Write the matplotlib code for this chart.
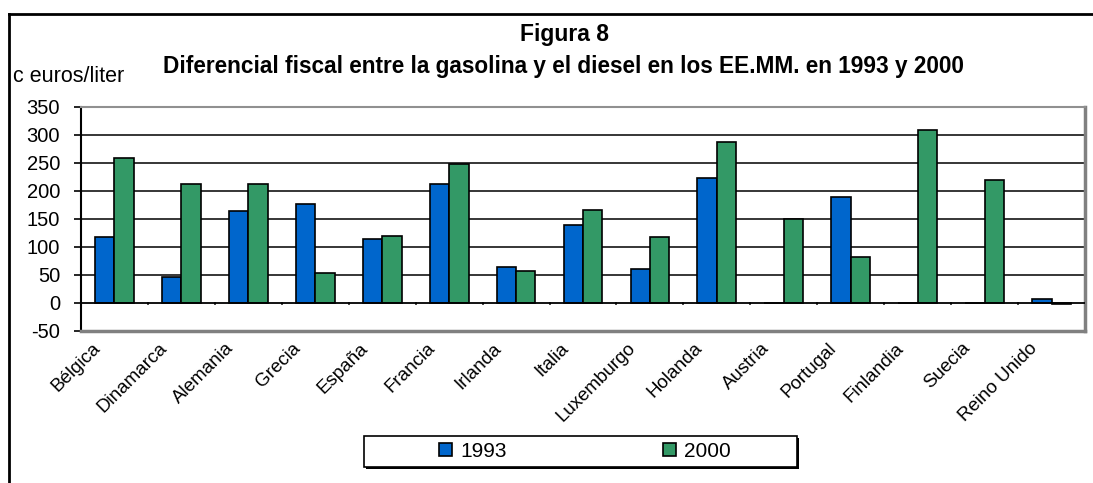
import matplotlib.pyplot as plt
import numpy as np
from matplotlib.lines import Line2D
from matplotlib.patches import Rectangle
from matplotlib.transforms import offset_copy

plt.rcParams["font.family"] = ["Liberation Sans", "DejaVu Sans"]

paises = ["Bélgica", "Dinamarca", "Alemania", "Grecia", "España", "Francia",
          "Irlanda", "Italia", "Luxemburgo", "Holanda", "Austria", "Portugal",
          "Finlandia", "Suecia", "Reino Unido"]
v1993 = [117, 46, 163, 177, 114, 212, 64, 138, 61, 223, 0, 188, 0, 0, 6]
v2000 = [258, 212, 212, 53, 120, 248, 57, 166, 117, 287, 149, 81, 308, 219, -3]
yticks = [-50, 0, 50, 100, 150, 200, 250, 300, 350]

W, H = 1093, 483
fig = plt.figure(figsize=(W / 100, H / 100), dpi=100)
ax = fig.add_axes([81 / W, 1 - 330.7 / H, (1085 - 81) / W, (330.7 - 106.7) / H])

x = np.arange(len(paises))
bw = 0.29
b1 = ax.bar(x - bw / 2, v1993, bw, color="#0066CC", edgecolor="black", linewidth=1.2,
            label="1993", zorder=3)
b2 = ax.bar(x + bw / 2, v2000, bw, color="#339966", edgecolor="black", linewidth=1.2,
            label="2000", zorder=3)

ax.set_xlim(-0.5, len(paises) - 0.5)
ax.set_ylim(-50, 350)
ax.set_yticks(yticks)
ax.set_yticklabels([str(v) for v in yticks], fontsize=14.5)
for v in yticks[2:-1]:
    ax.axhline(v, color="black", linewidth=1.1, zorder=1)
ax.axhline(0, color="black", linewidth=1.3, zorder=4)

# category boundary ticks hanging from the zero line
for b in np.arange(0.5, len(paises) - 0.5, 1.0):
    ax.plot([b, b], [0, -3], color="black", linewidth=1.2, zorder=4, clip_on=False)
ax.set_xticks([])

ax.tick_params(axis="y", direction="out", length=5, width=1.2, pad=10)
ax.spines["left"].set_color("black")
ax.spines["left"].set_linewidth(1.5)
ax.spines["top"].set_color("#909090")
ax.spines["top"].set_linewidth(1.5)
ax.spines["right"].set_color("#808080")
ax.spines["right"].set_linewidth(2.5)
ax.spines["bottom"].set_color("#808080")
ax.spines["bottom"].set_linewidth(2.5)

# rotated country labels
for i, p in enumerate(paises):
    tr = offset_copy(ax.transData, fig=fig, x=-11, y=-9, units="dots")
    ax.text(i, -50, p, rotation=45, ha="right", va="top", fontsize=13.5,
            transform=tr, clip_on=False)

fig.text(564 / W, 1 - 35 / H, "Figura 8", ha="center", va="center",
         fontsize=16.5, fontweight="bold")
fig.text(563 / W, 1 - 66 / H,
         "Diferencial fiscal entre la gasolina y el diesel en los EE.MM. en 1993 y 2000",
         ha="center", va="center", fontsize=16.3, fontweight="bold")
fig.text(13 / W, 1 - 77 / H, "c euros/liter", ha="left", va="center", fontsize=15.5)

# outer chart frame
fig.add_artist(Line2D([9 / W, 1.0], [1 - 14 / H, 1 - 14 / H], color="black",
                      linewidth=2, transform=fig.transFigure))
fig.add_artist(Line2D([9 / W, 9 / W], [1 - 14 / H, 0], color="black",
                      linewidth=2, transform=fig.transFigure))

# legend box with shadow edges
fig.add_artist(Rectangle((366 / W, 1 - 469 / H), (797 - 364) / W, 31 / H,
                         facecolor="black", edgecolor="none",
                         transform=fig.transFigure, zorder=5))
fig.add_artist(Rectangle((364 / W, 1 - 467 / H), (797 - 364) / W, 31 / H,
                         facecolor="white", edgecolor="black", linewidth=1.2,
                         transform=fig.transFigure, zorder=6))
leg = fig.legend(handles=[b1, b2], labels=["1993", "2000"], loc="center", ncol=2,
                 bbox_to_anchor=(585 / W, 1 - 451.5 / H),
                 fontsize=15, frameon=False,
                 handlelength=0.6, handleheight=0.6, handletextpad=0.4,
                 columnspacing=7.5, borderpad=0)
leg.set_zorder(7)

fig.savefig("out.png", dpi=100)
